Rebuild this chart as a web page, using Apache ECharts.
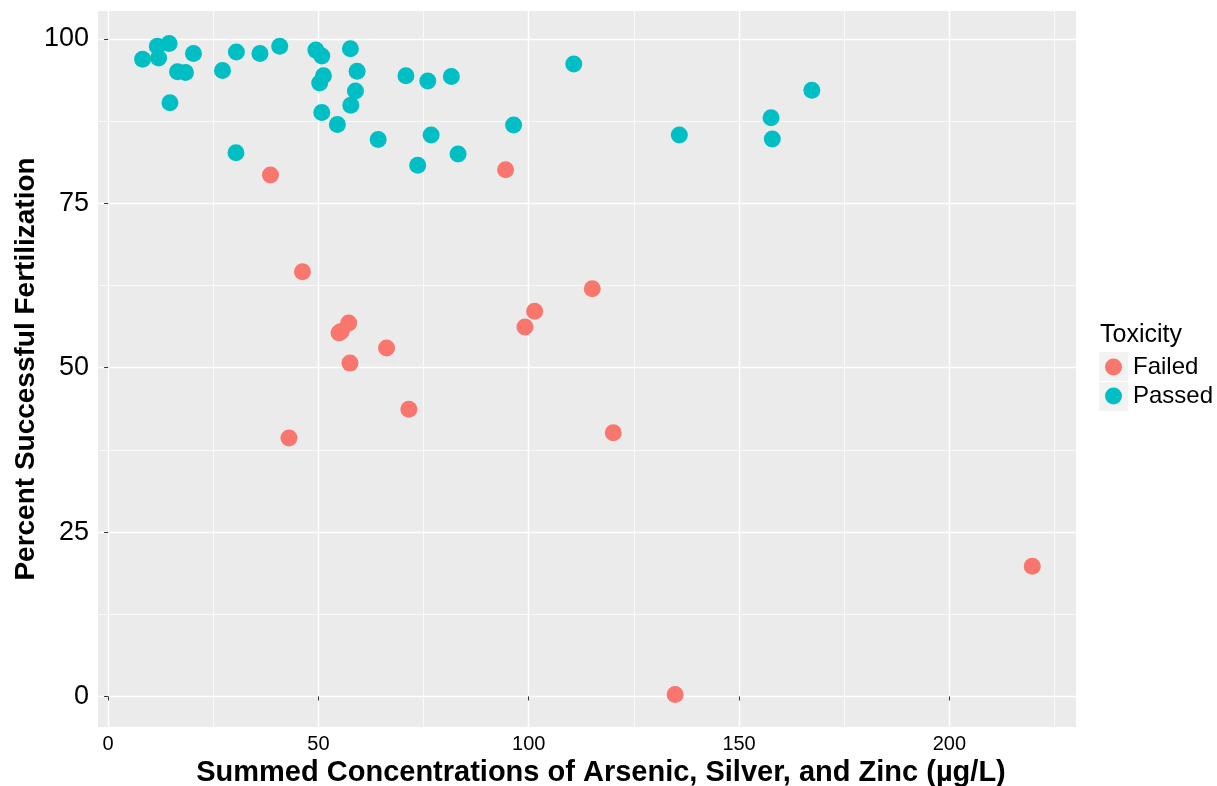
<!DOCTYPE html>
<html>
<head>
<meta charset="utf-8">
<script src="https://cdn.jsdelivr.net/npm/echarts@6/dist/echarts.min.js"></script>
<style>
  html, body { margin: 0; padding: 0; background: #ffffff; }
  #chart { width: 1217px; height: 786px; }
</style>
</head>
<body>
<div id="chart"></div>
<script>
// Summed As + Ag + Zn concentration (µg/L) and percent fertilization, by toxicity outcome
const failedConc = [38.6, 94.5, 46.2, 57.2, 54.9, 55.4, 66.2, 57.5, 71.5, 43.0, 115.1, 101.4, 99.1, 120.1, 219.7, 134.8];
const failedFert = [79.3, 80.1, 64.6, 56.8, 55.3, 55.5, 53.0, 50.7, 43.7, 39.3, 62.0, 58.6, 56.2, 40.1, 19.8, 0.3];

const passedConc = [8.2, 11.7, 14.5, 12.0, 20.3, 16.5, 18.4, 14.7, 27.2, 30.5, 36.1, 40.8, 49.4, 50.8, 57.6, 51.2,
  50.3, 59.2, 58.8, 57.7, 50.8, 54.5, 64.2, 70.8, 30.4, 110.7, 76.0, 81.6, 96.4, 76.8, 83.2, 73.6,
  135.8, 157.6, 157.9, 167.3];
const passedFert = [96.9, 98.9, 99.3, 97.1, 97.8, 95.0, 94.9, 90.3, 95.2, 98.0, 97.8, 98.9, 98.3, 97.4, 98.5, 94.4,
  93.3, 95.1, 92.1, 89.9, 88.8, 87.0, 84.7, 94.4, 82.7, 96.2, 93.6, 94.3, 86.9, 85.4, 82.5, 80.8,
  85.4, 88.0, 84.8, 92.2];

const groupNames = ['Failed', 'Passed'];
const xTicks = [0, 50, 100, 150, 200];
const xMinor = [25, 75, 125, 175, 225];
const yTicks = [0, 25, 50, 75, 100];
const yMinor = [12.5, 37.5, 62.5, 87.5];

const xTitle = 'Summed Concentrations of Arsenic, Silver, and Zinc (µg/L)';
const yTitle = 'Percent Successful Fertilization';
const legendTitle = 'Toxicity';

const pairs = (xs, ys) => xs.map((x, i) => [x, ys[i]]);

const FONT = '"Liberation Sans", Arial, Helvetica, sans-serif';
const X_MIN = -2.4, X_MAX = 230.1, Y_MIN = -4.64, Y_MAX = 104.25;

const chart = echarts.init(document.getElementById('chart'), null, { renderer: 'canvas' });

chart.setOption({
  animation: false,
  textStyle: { fontFamily: FONT },
  grid: {
    left: 98, right: 141, top: 11, bottom: 59,
    containLabel: false, outerBoundsMode: 'none',
    show: true, backgroundColor: '#EBEBEB', borderWidth: 0
  },
  xAxis: [
    {
      type: 'value', min: X_MIN, max: X_MAX,
      axisLine: { show: false },
      axisTick: { show: false, customValues: xMinor },
      axisLabel: { show: false, customValues: xMinor },
      splitLine: { show: true, lineStyle: { color: '#FFFFFF', width: 0.7 } }
    },
    {
      type: 'value', min: X_MIN, max: X_MAX, position: 'bottom',
      axisLine: { show: false },
      axisTick: { show: true, customValues: xTicks, length: 4, lineStyle: { color: '#333333', width: 1 } },
      axisLabel: { customValues: xTicks, fontSize: 20, color: '#000000', margin: 7, fontFamily: FONT },
      splitLine: { show: true, lineStyle: { color: '#FFFFFF', width: 1.4 } },
      name: xTitle, nameLocation: 'middle', nameGap: 31, nameMoveOverlap: false,
      nameTextStyle: { fontSize: 29, fontWeight: 'bold', color: '#000000', fontFamily: FONT, padding: [0, 0, 0, 28] }
    }
  ],
  yAxis: [
    {
      type: 'value', min: Y_MIN, max: Y_MAX,
      axisLine: { show: false },
      axisTick: { show: false, customValues: yMinor },
      axisLabel: { show: false, customValues: yMinor },
      splitLine: { show: true, lineStyle: { color: '#FFFFFF', width: 0.7 } }
    },
    {
      type: 'value', min: Y_MIN, max: Y_MAX, position: 'left',
      axisLine: { show: false },
      axisTick: { show: true, customValues: yTicks, length: 4, lineStyle: { color: '#333333', width: 1 } },
      axisLabel: { customValues: yTicks, fontSize: 27, color: '#000000', margin: 9, fontFamily: FONT },
      splitLine: { show: true, lineStyle: { color: '#FFFFFF', width: 1.4 } },
      name: yTitle, nameLocation: 'middle', nameGap: 58, nameRotate: 90, nameMoveOverlap: false,
      nameTextStyle: { fontSize: 28, fontWeight: 'bold', color: '#000000', fontFamily: FONT }
    }
  ],
  legend: {
    orient: 'vertical', left: 1105, top: 355, padding: 0,
    itemWidth: 17, itemHeight: 17, itemGap: 5, icon: 'circle',
    data: groupNames,
    textStyle: { fontSize: 24, color: '#000000', fontFamily: FONT, padding: [0, 0, 0, 6] }
  },
  graphic: [
    { type: 'rect', left: 1099, top: 352, z: -1, shape: { width: 29, height: 29 }, style: { fill: '#F2F2F2' } },
    { type: 'rect', left: 1099, top: 382, z: -1, shape: { width: 29, height: 29 }, style: { fill: '#F2F2F2' } },
    { type: 'text', left: 1100, top: 323, style: { text: legendTitle, font: '25px ' + FONT, fill: '#000000' } }
  ],
  series: [
    {
      name: groupNames[0], type: 'scatter', xAxisIndex: 1, yAxisIndex: 1,
      symbol: 'circle', symbolSize: 17,
      itemStyle: { color: '#F8766D', opacity: 1 },
      data: pairs(failedConc, failedFert)
    },
    {
      name: groupNames[1], type: 'scatter', xAxisIndex: 1, yAxisIndex: 1,
      symbol: 'circle', symbolSize: 17,
      itemStyle: { color: '#00BFC4', opacity: 1 },
      data: pairs(passedConc, passedFert)
    }
  ]
});
</script>
</body>
</html>
